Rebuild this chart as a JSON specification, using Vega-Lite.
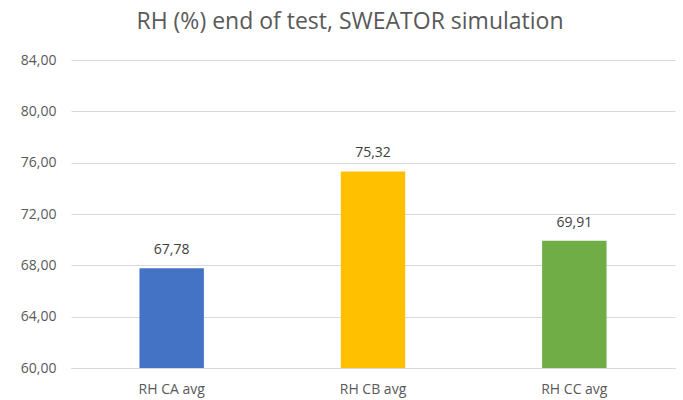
{
  "$schema": "https://vega.github.io/schema/vega-lite/v6.json",
  "autosize": "none",
  "width": 604,
  "height": 308,
  "padding": {"left": 71, "top": 60, "right": 8, "bottom": 32},
  "background": "white",
  "title": {
    "text": "RH (%) end of test, SWEATOR simulation",
    "font": "Open Sans",
    "fontSize": 23,
    "fontWeight": "normal",
    "color": "#595959",
    "anchor": "middle",
    "offset": 19,
    "dx": -23
  },
  "data": {
    "values": [
      {"cat": "RH CA avg", "value": 67.78},
      {"cat": "RH CB avg", "value": 75.32},
      {"cat": "RH CC avg", "value": 69.91}
    ]
  },
  "encoding": {
    "x": {
      "field": "cat",
      "type": "nominal",
      "sort": null,
      "scale": {"paddingInner": 0.68, "paddingOuter": 0.34},
      "axis": {
        "title": null,
        "labelAngle": 0,
        "labelFont": "Open Sans",
        "labelFontSize": 14,
        "labelColor": "#595959",
        "labelPadding": 14,
        "ticks": false,
        "domainColor": "#d9d9d9",
        "domainWidth": 1
      }
    },
    "y": {
      "field": "value",
      "type": "quantitative",
      "scale": {"domain": [60, 84], "zero": false, "nice": false},
      "axis": {
        "title": null,
        "values": [60, 64, 68, 72, 76, 80, 84],
        "format": ".2f",
        "labelFont": "Open Sans",
        "labelFontSize": 14,
        "labelColor": "#595959",
        "labelPadding": 15,
        "ticks": false,
        "domain": false,
        "gridColor": "#d9d9d9",
        "gridWidth": 1
      }
    }
  },
  "layer": [
    {
      "mark": {"type": "bar", "clip": true},
      "encoding": {
        "color": {
          "field": "cat",
          "type": "nominal",
          "scale": {"range": ["#4472C4", "#FFC000", "#70AD47"]},
          "legend": null
        }
      }
    },
    {
      "mark": {"type": "text", "dy": -18, "font": "Open Sans", "fontSize": 14, "color": "#404040", "baseline": "middle"},
      "encoding": {
        "text": {"field": "value", "type": "quantitative", "format": ".2f"}
      }
    }
  ],
  "config": {
    "view": {"stroke": null},
    "locale": {
      "number": {"decimal": ",", "thousands": ".", "grouping": [3], "currency": ["", " €"]}
    }
  }
}
